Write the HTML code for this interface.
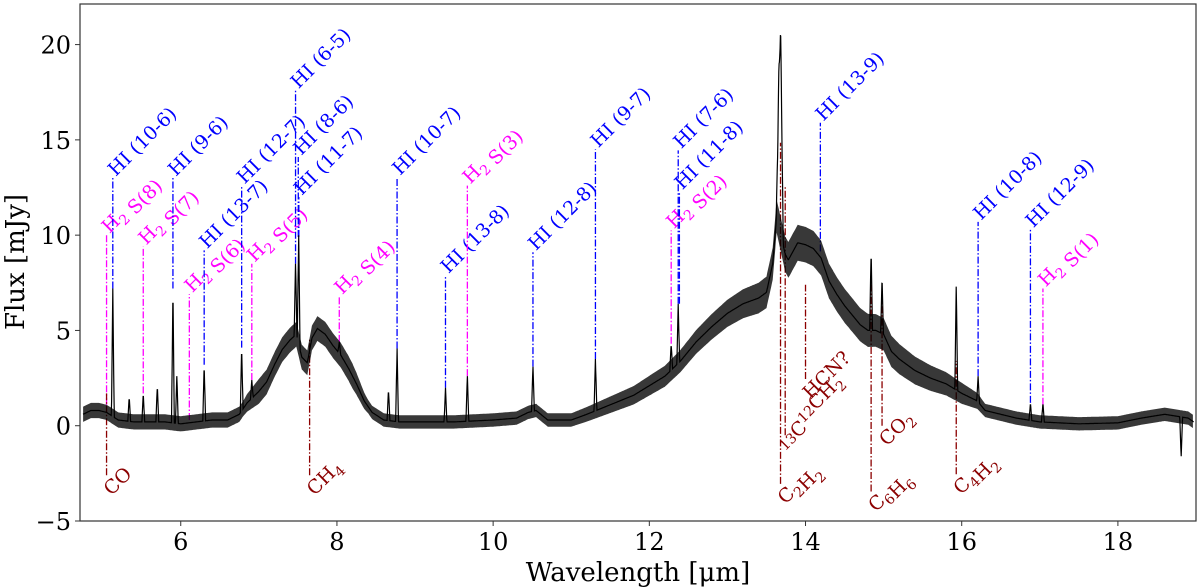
<!DOCTYPE html>
<html><head><meta charset="utf-8"><style>
html,body{margin:0;padding:0;background:#fff;}
svg{display:block;font-family:"DejaVu Serif","Liberation Serif",serif;}
</style></head><body>
<svg id="chart" width="1200" height="587" viewBox="0 0 1200 587" xmlns="http://www.w3.org/2000/svg">
<g id="grid-layer"></g>
</svg>
<script>
// ---- data ----
const contWl   = [4.75,4.85,4.95,5.05,5.2,5.4,5.6,5.8,6.0,6.2,6.4,6.6,6.75,6.85,7.0,7.1,7.2,7.3,7.4,7.48,7.55,7.62,7.68,7.75,7.85,7.95,8.05,8.15,8.25,8.35,8.45,8.6,8.8,9.0,9.5,10.0,10.3,10.45,10.55,10.7,11.0,11.2,11.5,11.8,12.0,12.2,12.4,12.6,12.8,13.0,13.2,13.4,13.5,13.58,13.63,13.74,13.78,13.9,14.0,14.1,14.2,14.3,14.4,14.5,14.6,14.7,14.8,14.9,15.0,15.1,15.2,15.4,15.6,15.8,16.0,16.1,16.2,16.3,16.5,16.7,17.0,17.5,18.0,18.3,18.6,18.9,18.97];
const contFlux = [0.6,0.8,0.8,0.7,0.3,0.2,0.2,0.2,0.1,0.2,0.3,0.3,0.6,1.2,1.8,2.3,3.2,4.0,4.5,4.8,3.6,3.3,4.6,5.1,4.8,4.2,3.7,3.0,2.2,1.3,0.7,0.3,0.2,0.2,0.2,0.3,0.4,0.7,0.8,0.3,0.3,0.6,1.1,1.6,2.1,2.6,3.4,4.4,5.2,5.9,6.4,6.7,7.0,8.5,11,9.0,8.7,9.6,9.5,9.3,8.8,7.6,6.9,6.3,5.8,5.3,5.0,5.0,4.8,3.9,3.5,2.9,2.5,2.2,1.7,1.5,1.3,0.8,0.6,0.4,0.2,0.1,0.15,0.4,0.6,0.4,0.2];
const noiseWl  = [4.7,6.8,7.0,8.2,8.4,11.0,12.5,13.6,13.8,15.0,16.0,16.3,19.0];
const noiseAmp = [0.4,0.4,0.65,0.65,0.35,0.35,0.6,0.85,0.95,0.85,0.55,0.35,0.35];
const lineWl   = [5.13,5.34,5.52,5.7,5.9,5.95,6.3,6.78,6.91,7.47,7.51,8.03,8.66,8.77,9.39,9.67,10.51,11.31,12.28,12.37,13.66,13.68,14.84,14.98,15.93,16.21,16.88,17.04,18.81];
const linePeak = [7.2,1.5,1.7,2.1,7.2,2.6,3.2,4.1,2.4,8.5,10.0,4.4,1.9,4.05,2.0,2.6,3.1,3.5,4.3,6.4,17.6,20.9,9.2,7.8,7.3,2.6,1.2,1.2,-1.6];
const markLabel = ["H2 S(8)","HI (10-6)","H2 S(7)","HI (9-6)","H2 S(6)","HI (13-7)","HI (12-7)","H2 S(5)","HI (6-5)","HI (8-6)","HI (11-7)","H2 S(4)","HI (10-7)","HI (13-8)","H2 S(3)","HI (12-8)","HI (9-7)","H2 S(2)","HI (7-6)","HI (11-8)","HI (13-9)","HI (10-8)","HI (12-9)","H2 S(1)","CO","CH4","C2H2","13C12CH2","HCN?","C6H6","CO2","C4H2"];
const markWl    = [5.05,5.13,5.52,5.9,6.11,6.3,6.78,6.91,7.47,7.505,7.512,8.03,8.77,9.39,9.67,10.51,11.31,12.28,12.37,12.385,14.19,16.21,16.88,17.04,5.05,7.65,13.68,13.74,14.0,14.84,14.98,15.93];
const markLo    = [1.1,7.2,1.7,7.2,0.3,3.2,4.1,2.4,8.5,9.9,9.9,4.4,4.05,2.0,2.6,3.1,3.5,4.3,6.4,6.4,9.15,2.6,1.2,1.1,-2.6,-2.6,-3.05,-0.5,2.45,-3.45,0.0,-2.55];
const markHi    = [10.0,13.0,9.4,13.0,6.9,9.2,12.6,8.5,17.6,14.1,12.0,6.8,13.05,7.9,12.6,9.1,14.5,10.25,14.45,12.3,15.9,10.7,10.3,7.2,1.7,4.6,14.85,12.6,7.4,7.6,6.9,3.4];
const markKind  = ["h2","hi","h2","hi","h2","hi","hi","h2","hi","hi","hi","h2","hi","hi","h2","hi","hi","h2","hi","hi","hi","hi","hi","h2","mol","mol","mol","mol","mol","mol","mol","mol"];
const xTicks = [6,8,10,12,14,16,18];
const yTicks = [-5,0,5,10,15,20];

// ---- axes ----
const L=80,R=1196,T=4,B=521, X0=4.71,X1=19.0, Y0=-5, Y1=22.13;
const xs=v=>L+(v-X0)/(X1-X0)*(R-L);
const ys=v=>B-(v-Y0)/(Y1-Y0)*(B-T);
const NS="http://www.w3.org/2000/svg";
const svg=document.getElementById('chart');
function mk(tag,attrs,parent){const e=document.createElementNS(NS,tag);for(const k in attrs)e.setAttribute(k,attrs[k]);(parent||svg).appendChild(e);return e;}
function interp(xa,ya,x){if(x<=xa[0])return ya[0];for(let i=1;i<xa.length;i++){if(x<=xa[i]){const t=(x-xa[i-1])/(xa[i]-xa[i-1]);return ya[i-1]+t*(ya[i]-ya[i-1]);}}return ya[ya.length-1];}

// markers (drawn first, under spectrum)
const colors={hi:'#0000ff',h2:'#ff00ff',mol:'#8b0000'};
function labelTspans(t,lab){
  const sub=(s)=>{const e=mk('tspan',{dy:'5','font-size':'14'},t);e.textContent=s;const r=mk('tspan',{dy:'-5'},t);r.textContent='';};
  const sup=(s)=>{const e=mk('tspan',{dy:'-7','font-size':'14'},t);e.textContent=s;const r=mk('tspan',{dy:'7'},t);r.textContent='';};
  const txt=(s)=>{const e=mk('tspan',{},t);e.textContent=s;};
  if(lab.startsWith('H2 ')){txt('H');sub('2');txt(' '+lab.slice(3));}
  else if(lab==='CH4'){txt('CH');sub('4');}
  else if(lab==='C2H2'){txt('C');sub('2');txt('H');sub('2');}
  else if(lab==='C6H6'){txt('C');sub('6');txt('H');sub('6');}
  else if(lab==='C4H2'){txt('C');sub('4');txt('H');sub('2');}
  else if(lab==='CO2'){txt('CO');sub('2');}
  else if(lab==='13C12CH2'){sup('13');txt('C');sup('12');txt('CH');sub('2');}
  else txt(lab);
}
for(let i=0;i<markLabel.length;i++){
  const c=colors[markKind[i]],x=xs(markWl[i]);
  const ln=mk('line',{x1:x,x2:x,y1:ys(markLo[i]),y2:ys(markHi[i]),stroke:c,'stroke-width':'1.3','stroke-dasharray':'7,2,1.5,2'});
  
  
  let tx,ty;
  if(markKind[i]==='mol'){tx=x+5;ty=ys(markLo[i])+21;}else{tx=x+3;ty=ys(markHi[i])-1;}
  const t=mk('text',{x:tx,y:ty,fill:c,'font-size':'19',transform:`rotate(-45 ${tx} ${ty})`});
  
  
  labelTspans(t,markLabel[i]);
}

// noise band
const grid=[];for(let w=4.75;w<=18.97;w+=0.01)grid.push(w);
let up=[],dn=[];
grid.forEach(w=>{const c=interp(contWl,contFlux,w),a=interp(noiseWl,noiseAmp,w);up.push(xs(w).toFixed(1)+','+ys(c+a).toFixed(1));dn.push(xs(w).toFixed(1)+','+ys(c-a).toFixed(1));});
const band=mk('polygon',{points:up.concat(dn.reverse()).join(' '),fill:'#000','fill-opacity':'0.78'});



// spectrum line
const fine=[];for(let w=4.75;w<=18.97;w+=0.004)fine.push(w);
const pts=fine.map(w=>{let f=interp(contWl,contFlux,w);for(let i=0;i<lineWl.length;i++){const hw=(lineWl[i]>13.6&&lineWl[i]<13.7)?0.035:0.018;const d=Math.abs(w-lineWl[i]);if(d<hw){const v=f+(linePeak[i]-f)*(1-d/hw);f=(linePeak[i]<0)?Math.min(f,v):Math.max(f,v);}}return xs(w).toFixed(1)+','+ys(f).toFixed(1);});
const spec=mk('polyline',{points:pts.join(' '),fill:'none',stroke:'#000','stroke-width':'1.2'});



// frame & ticks
const fr=mk('rect',{x:L,y:T,width:R-L,height:B-T,fill:'none',stroke:'#333','stroke-width':'1.2'});


xTicks.forEach(v=>{const x=xs(v);mk('line',{x1:x,x2:x,y1:B,y2:B+5,stroke:'#333'});
  const t=mk('text',{x:x,y:B+29,'text-anchor':'middle','font-size':'24',fill:'#000'});t.textContent=v;
  
  });
yTicks.forEach(v=>{const y=ys(v);mk('line',{x1:L-5,x2:L,y1:y,y2:y,stroke:'#333'});
  const t=mk('text',{x:L-9,y:y+9,'text-anchor':'end','font-size':'24',fill:'#000'});t.textContent=(v<0?'\u2212'+(-v):v);
  
  });
const xt=mk('text',{x:(L+R)/2,y:581,'text-anchor':'middle','font-size':'26',fill:'#000'});xt.textContent='Wavelength [\u03bcm]';


const yt=mk('text',{x:24,y:262,'text-anchor':'middle','font-size':'26',fill:'#000',transform:'rotate(-90 24 262)'});yt.textContent='Flux [mJy]';


</script>
</body></html>
